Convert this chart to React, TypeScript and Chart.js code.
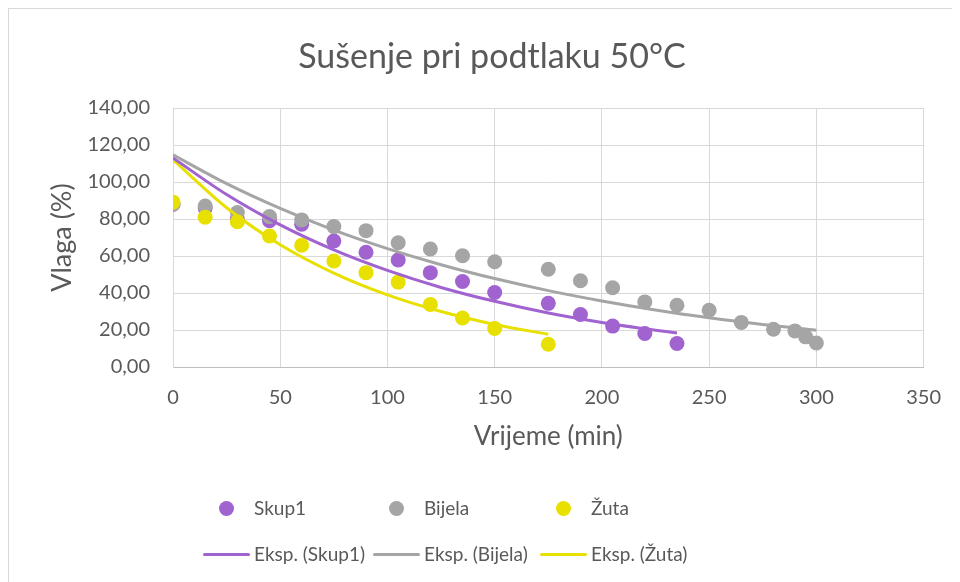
import React, { useEffect, useRef } from "react";
import { Chart, registerables } from "chart.js";

Chart.register(...registerables);

// ---- Data ----
const chartTitle = "Sušenje pri podtlaku 50°C";
const xAxisTitle = "Vrijeme (min)";
const yAxisTitle = "Vlaga (%)";

const skup1Times = [0, 15, 30, 45, 60, 75, 90, 105, 120, 135, 150, 175, 190, 205, 220, 235];
const skup1Values = [88, 86, 80, 79.1, 77.2, 68.1, 62.0, 57.8, 51.0, 46.2, 40.3, 34.4, 28.4, 22.1, 18.1, 12.7];

const bijelaTimes = [0, 15, 30, 45, 60, 75, 90, 105, 120, 135, 150, 175, 190, 205, 220, 235, 250, 265, 280, 290, 295, 300];
const bijelaValues = [88, 87, 83.5, 81.3, 79.5, 75.9, 73.7, 67.2, 63.8, 60.1, 56.9, 52.8, 46.6, 42.8, 35.2, 33.4, 30.7, 24.1, 20.4, 19.5, 16.3, 13.0];

const zutaTimes = [0, 15, 30, 45, 60, 75, 90, 105, 120, 135, 150, 175];
const zutaValues = [89.1, 81.0, 78.5, 70.8, 65.8, 57.3, 51.0, 45.9, 33.8, 26.5, 20.8, 12.3];

// Exponential trendlines
const trendSkup1Times = [0, 25, 50, 75, 100, 125, 150, 175, 200, 225, 235];
const trendSkup1Values = [113, 93.2, 76.8, 63.3, 52.2, 43.0, 35.5, 29.2, 24.1, 19.9, 18.4];

const trendBijelaTimes = [0, 25, 50, 75, 100, 125, 150, 175, 200, 225, 250, 275, 300];
const trendBijelaValues = [114.7, 99.1, 85.7, 74.0, 64.0, 55.3, 47.8, 41.3, 35.7, 30.8, 26.6, 23.0, 19.9];

const trendZutaTimes = [0, 25, 50, 75, 100, 125, 150, 175];
const trendZutaValues = [112, 86.1, 66.1, 50.8, 39.0, 30.0, 23.0, 17.7];

const seriesNames = ["Skup1", "Bijela", "Žuta"];
const trendNames = ["Eksp. (Skup1)", "Eksp. (Bijela)", "Eksp. (Žuta)"];
const seriesColors = ["#A163CF", "#A5A5A5", "#E8E000"];

const xMin = 0, xMax = 350, xStep = 50;
const yMin = 0, yMax = 140, yStep = 20;

const toPoints = (xs: number[], ys: number[]) => xs.map((x, i) => ({ x, y: ys[i] }));

const FONT = "Lato, 'Open Sans', sans-serif";
const TEXT = "#595959";

export default function App() {
  const canvasRef = useRef<HTMLCanvasElement | null>(null);

  useEffect(() => {
    if (!canvasRef.current) return;
    const scatterDs = (i: number, xs: number[], ys: number[], order: number) => ({
      label: seriesNames[i],
      data: toPoints(xs, ys),
      backgroundColor: seriesColors[i],
      borderColor: seriesColors[i],
      borderWidth: 0,
      pointRadius: 7.5,
      pointHoverRadius: 7.5,
      showLine: false,
      order,
    });
    const trendDs = (i: number, xs: number[], ys: number[]) => ({
      label: trendNames[i],
      data: toPoints(xs, ys),
      borderColor: seriesColors[i],
      backgroundColor: seriesColors[i],
      borderWidth: 3,
      pointRadius: 0,
      showLine: true,
      cubicInterpolationMode: "monotone" as const,
      order: 0,
    });

    const chart = new Chart(canvasRef.current, {
      type: "scatter",
      data: {
        datasets: [
          scatterDs(0, skup1Times, skup1Values, 3),
          scatterDs(1, bijelaTimes, bijelaValues, 2),
          scatterDs(2, zutaTimes, zutaValues, 1),
          trendDs(0, trendSkup1Times, trendSkup1Values),
          trendDs(1, trendBijelaTimes, trendBijelaValues),
          trendDs(2, trendZutaTimes, trendZutaValues),
        ] as any,
      },
      options: {
        animation: false,
        responsive: false,
        maintainAspectRatio: false,
        events: [],
        layout: { padding: { left: 37, right: 35, top: 99, bottom: 129.4 } },
        plugins: {
          legend: { display: false },
          tooltip: { enabled: false },
          title: { display: false },
        },
        scales: {
          x: {
            type: "linear",
            min: xMin,
            max: xMax,
            ticks: {
              stepSize: xStep,
              color: TEXT,
              font: { family: FONT, size: 20 },
              padding: 19,
            },
            grid: { color: "#D9D9D9", lineWidth: 1, drawTicks: false },
            border: { color: "#BFBFBF", width: 1 },
            title: {
              display: true,
              text: xAxisTitle,
              color: TEXT,
              font: { family: FONT, size: 26 },
              padding: 0,
            },
            afterFit: (s: any) => { s.height = 85.6; },
          },
          y: {
            type: "linear",
            min: yMin,
            max: yMax,
            ticks: {
              stepSize: yStep,
              color: TEXT,
              font: { family: FONT, size: 20 },
              padding: 23,
              callback: (v: any) => Number(v).toFixed(2).replace(".", ","),
            },
            grid: { color: "#D9D9D9", lineWidth: 1, drawTicks: false },
            border: { color: "#D9D9D9", width: 1 },
            title: {
              display: true,
              text: yAxisTitle,
              color: TEXT,
              font: { family: FONT, size: 27 },
              padding: 0,
            },
            afterFit: (s: any) => { s.width = 127; },
          },
        },
      },
    });
    return () => chart.destroy();
  }, []);

  const colStarts = [203, 373, 540]; // page x of legend columns
  const legendText: React.CSSProperties = {
    position: "absolute",
    fontFamily: FONT,
    fontSize: 19,
    color: TEXT,
    lineHeight: "24px",
    whiteSpace: "nowrap",
  };

  return (
    <div
      style={{
        position: "relative",
        width: 952,
        height: 574,
        boxSizing: "border-box",
        borderTop: "1px solid #D9D9D9",
        borderLeft: "1px solid #D9D9D9",
        overflow: "hidden",
        background: "#fff",
      }}
    >
      <canvas
        ref={canvasRef}
        width={951}
        height={573}
        style={{ position: "absolute", left: 0, top: 0, width: 951, height: 573 }}
      />
      <div
        style={{
          position: "absolute",
          left: 483,
          top: 26,
          transform: "translateX(-50%)",
          fontFamily: FONT,
          fontSize: 34,
          lineHeight: "40px",
          color: TEXT,
          whiteSpace: "nowrap",
        }}
      >
        {chartTitle}
      </div>
      {seriesNames.map((name, i) => (
        <React.Fragment key={name}>
          <div
            style={{
              position: "absolute",
              left: colStarts[i] - 9 + 23.5 - 7.5,
              top: 508 - 9 - 7.5,
              width: 15,
              height: 15,
              borderRadius: "50%",
              background: seriesColors[i],
            }}
          />
          <div style={{ ...legendText, left: colStarts[i] - 9 + 51, top: 508 - 9 - 12 }}>{name}</div>
          <div
            style={{
              position: "absolute",
              left: colStarts[i] - 9,
              top: 554 - 9 - 1.5,
              width: 47,
              height: 3,
              borderRadius: 1.5,
              background: seriesColors[i],
            }}
          />
          <div style={{ ...legendText, left: colStarts[i] - 9 + 51, top: 554 - 9 - 12 }}>{trendNames[i]}</div>
        </React.Fragment>
      ))}
    </div>
  );
}
